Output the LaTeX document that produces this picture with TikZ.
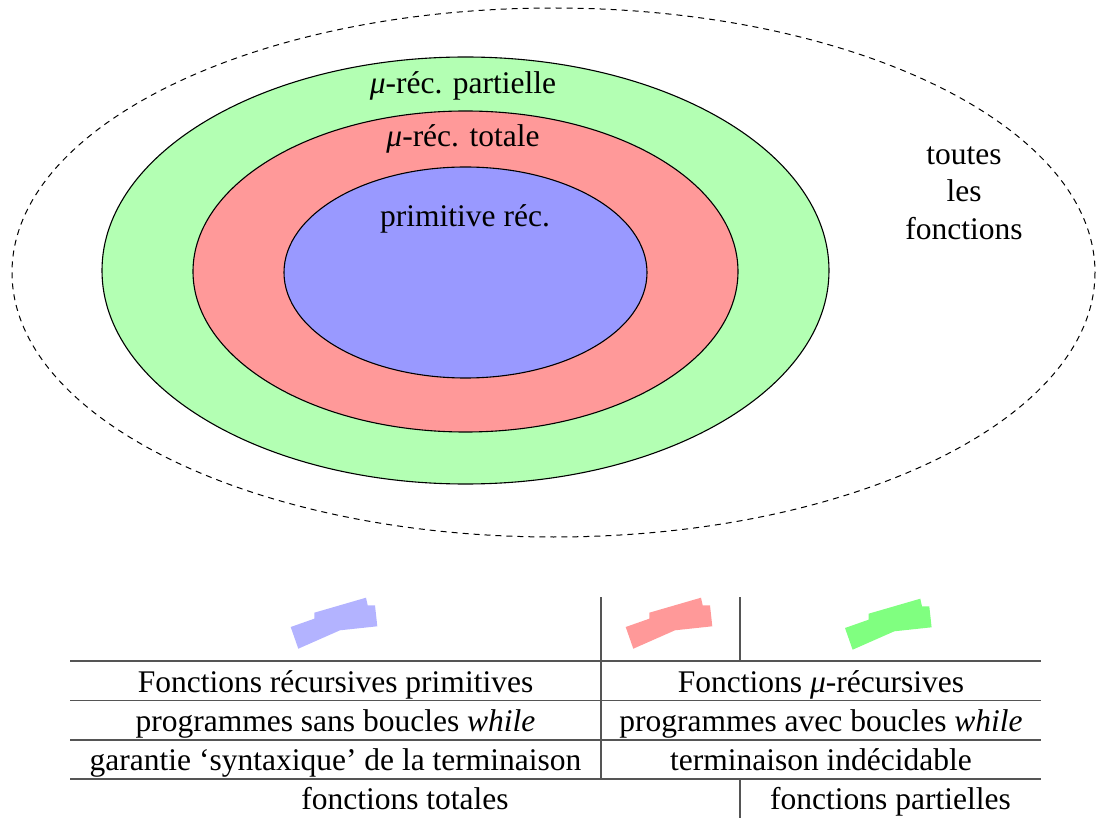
\documentclass[tikz,border=0pt]{standalone}
\usepackage{fontspec}
\setmainfont{LiberationSerif}[Extension=.ttf, UprightFont=*-Regular, ItalicFont=*-Italic, BoldFont=*-Bold, BoldItalicFont=*-BoldItalic]
\definecolor{ellgreen}{RGB}{179,255,179}
\definecolor{ellred}{RGB}{255,153,153}
\definecolor{ellblue}{RGB}{153,153,255}
\definecolor{mkblue}{RGB}{179,179,255}
\definecolor{mkred}{RGB}{255,153,153}
\definecolor{mkgreen}{RGB}{128,255,128}
\definecolor{rulegray}{RGB}{85,85,85}
\tikzset{
  setline/.style={draw=black, line width=1.1pt},
  rule/.style={draw=rulegray, line width=1.4pt},
  thickrule/.style={draw=rulegray, line width=2.4pt},
  txt/.style={anchor=base, inner sep=0pt},
  hl/.pic={\fill[pic actions] (0,0) -- (23.6,-8.3) -- (23.6,-14.3) -- (75.3,-29.3) -- (77,-21.7) -- (84.3,-21.7) -- (86.6,-0.7) -- (49.3,3.3) -- (7.6,21.7) -- cycle;}
}
\begin{document}
\begin{tikzpicture}[x=1pt,y=-1pt,font=\fontsize{31.5}{37.5}\selectfont]
\useasboundingbox (0,0) rectangle (1096,818);
% ellipses
\draw[black, line width=1pt, dash pattern=on 6pt off 5pt] (553.5,272.5) ellipse [x radius=541.5, y radius=264.5];
\filldraw[fill=ellgreen, setline] (465.5,270.5) ellipse [x radius=363.5, y radius=213.5];
\filldraw[fill=ellred, setline] (465.5,271.5) ellipse [x radius=272.5, y radius=160.5];
\filldraw[fill=ellblue, setline] (465.5,272.5) ellipse [x radius=181.5, y radius=105.5];
\node[txt] (lpart) at (463,93.5) {\textit{μ}-réc. partielle};
\node[txt] (ltot) at (463,146.5) {\textit{μ}-réc. totale};
\node[txt] (lprim) at (465,227) {primitive réc.};
\node[align=center, inner sep=0pt] (ltout) at (964,193) {toutes\\les\\fonctions};
% table rules
\draw[rule] (601,597) -- (601,779);
\draw[rule] (740,597) -- (740,661);
\draw[rule] (740,779) -- (740,818);
\draw[rule] (70,661) -- (1041,661);
\draw[rule] (70,700.5) -- (1041,700.5);
\draw[rule] (70,740) -- (1041,740);
\draw[thickrule] (70,779) -- (1041,779);
% highlighter marks
\pic[fill=mkblue] at (290.7,627) {hl};
\pic[fill=mkred] at (625.7,627) {hl};
\pic[fill=mkgreen] at (845,628) {hl};
% table text
\node[txt] (c11) at (335.5,692) {Fonctions récursives primitives};
\node[txt] (c12) at (821,692) {Fonctions \textit{μ}-récursives};
\node[txt] (c21) at (335.5,731) {programmes sans boucles \textit{while}};
\node[txt] (c22) at (821,731) {programmes avec boucles \textit{while}};
\node[txt] (c31) at (335.5,770.5) {garantie ‘syntaxique’ de la terminaison};
\node[txt] (c32) at (821,770.5) {terminaison indécidable};
\node[txt] (c41) at (405,809.5) {fonctions totales};
\node[txt] (c42) at (890.5,809.5) {fonctions partielles};
\end{tikzpicture}
\end{document}
